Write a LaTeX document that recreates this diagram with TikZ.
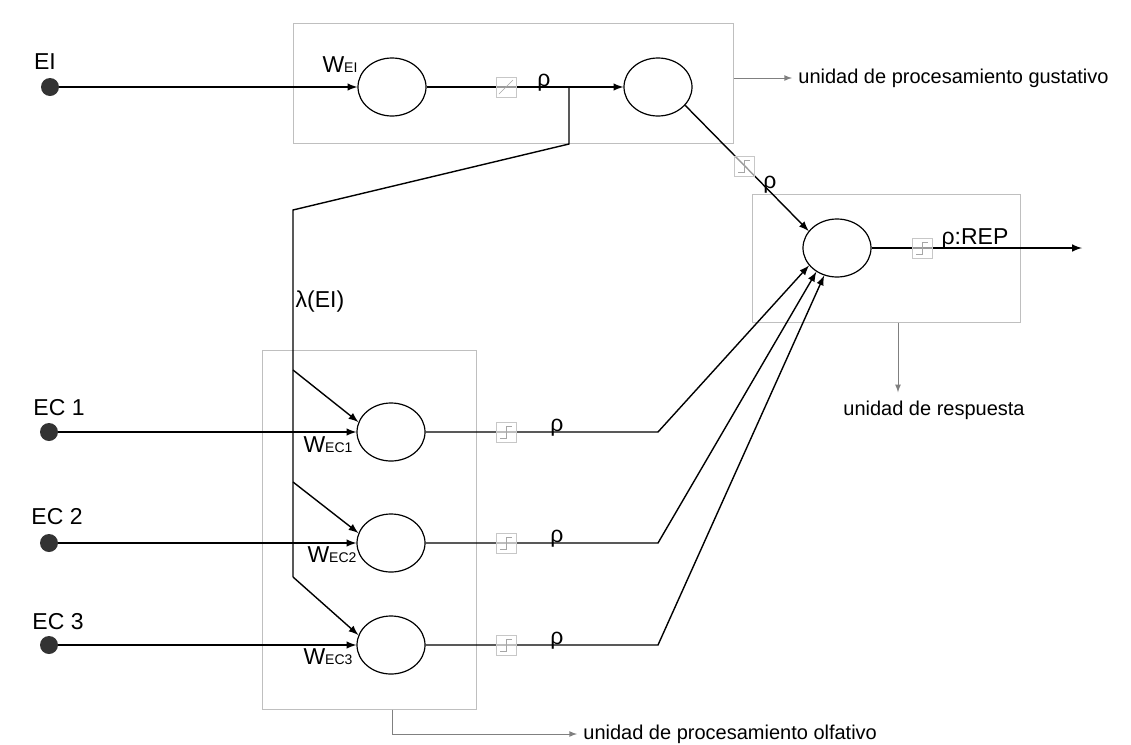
\documentclass[tikz,border=0pt]{standalone}
\usepackage{fontspec}
\setmainfont{Liberation Sans}
\usepackage{tikz}
\usetikzlibrary{arrows,shapes.geometric}

\newcommand{\wsub}[1]{W{\fontsize{7pt}{8pt}\selectfont #1}}
\newcommand{\escalon}[1]{\draw[glifo] ([shift={(-3pt,-3pt)}]#1.center) -- ++(3pt,0) -- ++(0,6pt) -- ++(3pt,0);}

\begin{document}
\begin{tikzpicture}[x=0.5pt,y=-0.5pt,
		neurona/.style={ellipse,draw,line width=0.6pt,minimum width=34pt,minimum height=29pt,inner sep=0pt},
		estimulo/.style={circle,fill=black!80,minimum size=9pt,inner sep=0pt},
		unidad/.style={rectangle,draw=black!25,line width=0.5pt,inner sep=0pt},
		funcion/.style={rectangle,draw=black!22,fill=white,fill opacity=0.6,minimum size=10pt,inner sep=0pt},
		glifo/.style={black!35,line width=0.3pt},
		conexion/.style={line width=0.7pt},
		etiqueta/.style={draw=black!50,line width=0.35pt,-latex},
		texto/.style={inner sep=0pt},
		rotulo/.style={inner sep=0pt,font=\fontsize{11.5pt}{13pt}\selectfont}]
		\useasboundingbox (0,0) rectangle (1131,745);
%		\draw[help lines,step=50] (0,0) grid (1131,745);
		\path (513,83) node(u_gus)[unidad,minimum width=220pt,minimum height=60pt] {};
		\path (886,258) node(u_res)[unidad,minimum width=134pt,minimum height=64pt] {};
		\path (369,529.5) node(u_olf)[unidad,minimum width=107pt,minimum height=179.5pt] {};

		\path (392,87) node(n_ei)[neurona] {};
		\path (658,87) node(n_gus)[neurona] {};
		\path (837,248) node(n_res)[neurona] {};
		\path (391,432) node(n_ec1)[neurona] {};
		\path (391,543) node(n_ec2)[neurona] {};
		\path (391,645) node(n_ec3)[neurona] {};

		\path (50,87) node(ei)[estimulo] {};
		\path (49,432) node(ec1)[estimulo] {};
		\path (49,543) node(ec2)[estimulo] {};
		\path (49,645) node(ec3)[estimulo] {};

		\path (569,87) coordinate (rama);
		\path (569,144) coordinate (codo_a);
		\path (293,210) coordinate (codo_b);
		\path (293,370) coordinate (lam1);
		\path (293,482) coordinate (lam2);
		\path (293,577) coordinate (lam3);
		\path (658,432) coordinate (codo1);
		\path (658,543) coordinate (codo2);
		\path (658,645) coordinate (codo3);
		\path (1082,248) coordinate (salida);

		\draw[conexion,-latex] (ei) -- (n_ei);
		\draw[conexion,-latex] (n_ei) -- (n_gus);
		\draw[conexion] (rama) -- (codo_a) -- (codo_b) -- (lam3);
		\draw[conexion,-latex] (lam1) -- (n_ec1.163);
		\draw[conexion,-latex] (lam2) -- (n_ec2.163);
		\draw[conexion,-latex] (lam3) -- (n_ec3.163);
		\draw[conexion,-latex] (ec1) -- (n_ec1);
		\draw[conexion,-latex] (ec2) -- (n_ec2);
		\draw[conexion,-latex] (ec3) -- (n_ec3);
		\draw[conexion,-latex] (n_ec1) -- (codo1) -- (n_res.212);
		\draw[conexion,-latex] (n_ec2) -- (codo2) -- (n_res.229);
		\draw[conexion,-latex] (n_ec3) -- (codo3) -- (n_res.245);
		\draw[conexion,-latex] (n_gus.-34) -- (n_res.149);
		\draw[conexion,-latex] (n_res) -- (salida);

		% funciones de transferencia
		\path (506,87) node(f_ei)[funcion] {};
		\draw[glifo] ([shift={(-3.5pt,-3.5pt)}]f_ei.center) -- ([shift={(3.5pt,3.5pt)}]f_ei.center);
		\path (744,166) node(f_gus)[funcion] {};
		\escalon{f_gus}
		\path (922,248) node(f_res)[funcion] {};
		\escalon{f_res}
		\path (506,432) node(f_ec1)[funcion] {};
		\escalon{f_ec1}
		\path (506,543) node(f_ec2)[funcion] {};
		\escalon{f_ec2}
		\path (506,645) node(f_ec3)[funcion] {};
		\escalon{f_ec3}

		\path (45,62) node(t_ei)[rotulo] {EI};
		\path (59,408) node(t_ec1)[rotulo] {EC 1};
		\path (57,517) node(t_ec2)[rotulo] {EC 2};
		\path (58,622) node(t_ec3)[rotulo] {EC 3};
		\path (340,65) node(t_wei)[rotulo] {\wsub{EI}};
		\path (328,445) node(t_wec1)[rotulo] {\wsub{EC1}};
		\path (332,555) node(t_wec2)[rotulo] {\wsub{EC2}};
		\path (328,657) node(t_wec3)[rotulo] {\wsub{EC3}};
		\path (320,302) node(t_lambda)[rotulo] {λ(EI)};
		\path (544,83) node(t_rho_gus)[rotulo] {ρ};
		\path (770,185) node(t_rho_res)[rotulo] {ρ};
		\path (557,428) node(t_rho1)[rotulo] {ρ};
		\path (557,539) node(t_rho2)[rotulo] {ρ};
		\path (557,641) node(t_rho3)[rotulo] {ρ};
		\path (975,239) node(t_rep)[rotulo] {ρ:REP};

		\path (798,78) node(t_gus)[texto,anchor=west] {unidad de procesamiento gustativo};
		\draw[etiqueta] (u_gus.east |- t_gus.west) -- ([xshift=-3pt]t_gus.west);
		\path (934,410) node(t_res)[texto] {unidad de respuesta};
		\draw[etiqueta] ([xshift=6pt]u_res.south) -- ([xshift=6pt,yshift=4pt]u_res.south |- t_res.north);
		\path (583,734) node(t_olf)[texto,anchor=west] {unidad de procesamiento olfativo};
		\draw[etiqueta] ([xshift=11.5pt]u_olf.south) |- ([xshift=-3pt]t_olf.west);
	\end{tikzpicture}
\end{document}
